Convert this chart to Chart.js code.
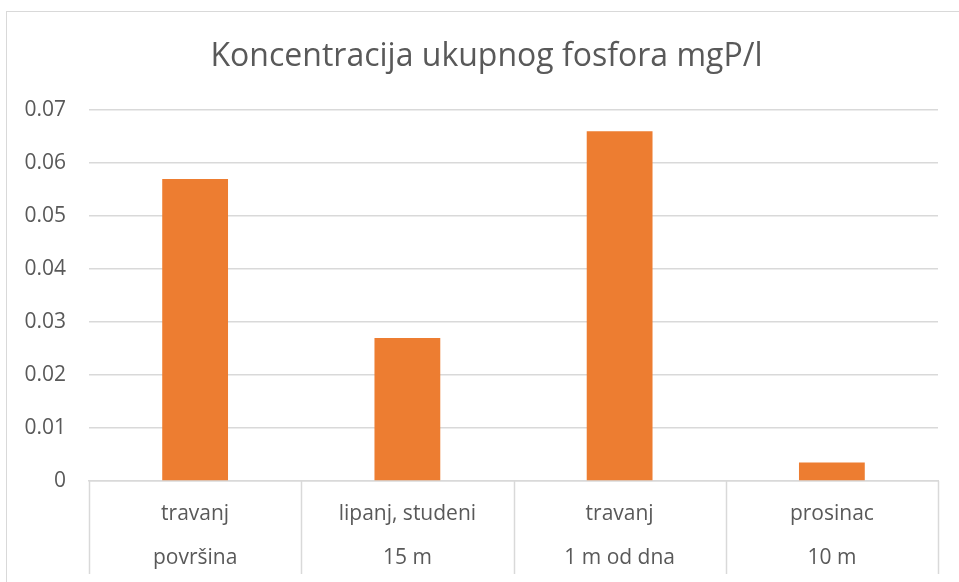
<!DOCTYPE html>
<html>
<head>
<meta charset="utf-8">
<script src="https://cdn.jsdelivr.net/npm/chart.js@4/dist/chart.umd.min.js"></script>
<style>
  html, body { margin: 0; padding: 0; background: #ffffff; }
  #wrap { position: relative; width: 959px; height: 582px; overflow: hidden; }
  #frame { position: absolute; left: 6px; top: 11px; width: 970px; height: 600px; border: 1px solid #d9d9d9; box-sizing: border-box; }
  canvas { position: absolute; left: 0; top: 0; }
</style>
</head>
<body>
<div id="wrap">
  <div id="frame"></div>
  <canvas id="c" width="959" height="582"></canvas>
</div>
<script>
const titleText = 'Koncentracija ukupnog fosfora mgP/l';
const months = ['travanj', 'lipanj, studeni', 'travanj', 'prosinac'];
const depths = ['površina', '15 m', '1 m od dna', '10 m'];
const values = [0.057, 0.027, 0.066, 0.0035];
const yTicks = [0, 0.01, 0.02, 0.03, 0.04, 0.05, 0.06, 0.07];

const labels = months.map((m, i) => [m, depths[i]]);

const separators = {
  id: 'separators',
  afterDraw(chart) {
    const x = chart.scales.x;
    const ctx = chart.ctx;
    const n = labels.length;
    const half = (x.getPixelForValue(1) - x.getPixelForValue(0)) / 2;
    const top = chart.chartArea.bottom;
    ctx.save();
    ctx.strokeStyle = '#d9d9d9';
    ctx.lineWidth = 1.5;
    for (let i = 0; i <= n; i++) {
      const px = i < n ? x.getPixelForValue(i) - half : x.getPixelForValue(n - 1) + half;
      ctx.beginPath();
      ctx.moveTo(Math.round(px) + 0.5, top);
      ctx.lineTo(Math.round(px) + 0.5, top + 93);
      ctx.stroke();
    }
    ctx.restore();
  }
};

const chartTitle = {
  id: 'chartTitle',
  afterDraw(chart) {
    const ctx = chart.ctx;
    ctx.save();
    ctx.fillStyle = '#595959';
    ctx.font = '32px "Open Sans"';
    ctx.textAlign = 'center';
    ctx.textBaseline = 'middle';
    ctx.fillText(titleText, 486.5, 57);
    ctx.restore();
  }
};

new Chart(document.getElementById('c'), {
  type: 'bar',
  data: {
    labels: labels,
    datasets: [{
      data: values,
      backgroundColor: '#ED7D31',
      borderWidth: 0,
      barPercentage: 0.62,
      categoryPercentage: 0.5
    }]
  },
  options: {
    responsive: false,
    animation: false,
    devicePixelRatio: 1,
    layout: { padding: { left: 0, right: 21, top: 110, bottom: 0 } },
    plugins: {
      legend: { display: false },
      tooltip: { enabled: false },
      title: { display: false }
    },
    scales: {
      x: {
        grid: { display: false, drawTicks: false },
        border: { display: true, color: '#d9d9d9', width: 1.5 },
        ticks: {
          color: '#595959',
          font: { family: 'Open Sans', size: 21, lineHeight: 44 / 21 },
          padding: 11,
          maxRotation: 0,
          autoSkip: false
        },
        afterFit(scale) { scale.height = 101; }
      },
      y: {
        min: 0,
        max: 0.07,
        afterBuildTicks(scale) { scale.ticks = yTicks.map(v => ({ value: v })); },
        grid: { color: '#d9d9d9', lineWidth: 1.5, drawTicks: false },
        border: { display: false },
        ticks: {
          color: '#595959',
          font: { family: 'Open Sans', size: 21 },
          padding: 23,
          callback: (v) => String(v)
        },
        afterFit(scale) { scale.width = 89; }
      }
    }
  },
  plugins: [separators, chartTitle]
});
</script>
</body>
</html>
